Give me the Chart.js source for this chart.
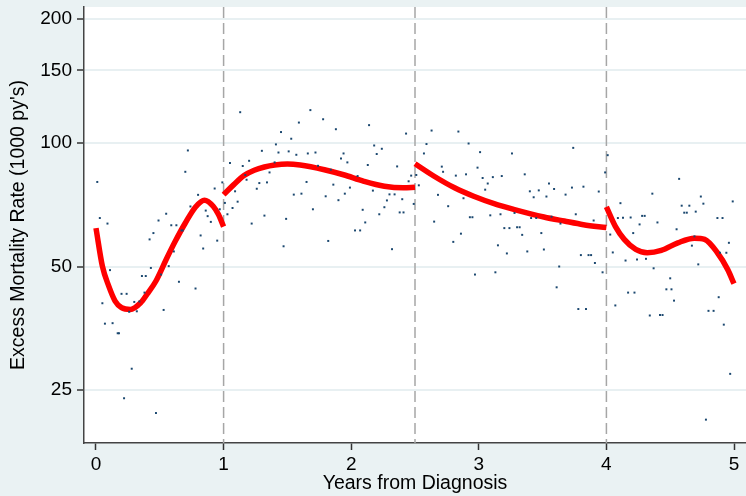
<!DOCTYPE html>
<html>
<head>
<meta charset="utf-8">
<script src="https://cdn.jsdelivr.net/npm/chart.js@4.4.0/dist/chart.umd.min.js"></script>
<style>
    html, body { margin: 0; padding: 0; background: #eaf2f3; }
    #wrap { width: 746px; height: 496px; }
</style>
</head>
<body>
<div id="wrap"><canvas id="chart"></canvas></div>
<script>
const xTicks = [0, 1, 2, 3, 4, 5];
const yTicks = [25, 50, 100, 150, 200];
const knots = [1, 2.5, 4];

// observed rates per interval
const dotYears = [
    0.01, 0.03, 0.05, 0.07, 0.09, 0.11, 0.13, 0.17, 0.18, 0.20,
    0.22, 0.24, 0.26, 0.28, 0.30, 0.32, 0.34, 0.36, 0.38, 0.39,
    0.42, 0.43, 0.45, 0.47, 0.49, 0.51, 0.53, 0.55, 0.57, 0.59,
    0.61, 0.63, 0.65, 0.67, 0.68, 0.70, 0.72, 0.74, 0.78,
    0.80, 0.82, 0.84, 0.86, 0.875, 0.90, 0.93, 0.95, 0.97, 0.99,
    1.01, 1.03, 1.05, 1.07, 1.09, 1.11, 1.13, 1.15, 1.17, 1.18,
    1.20, 1.22, 1.26, 1.28, 1.30, 1.32, 1.34, 1.36, 1.40, 1.41,
    1.43, 1.45, 1.47, 1.49, 1.51, 1.53, 1.55, 1.57, 1.59, 1.61,
    1.65,
    1.66, 1.68, 1.70, 1.72, 1.74, 1.78, 1.80, 1.82, 1.84, 1.86,
    1.88, 1.90, 1.92, 1.94, 1.95, 1.97, 1.99, 2.03, 2.05, 2.07,
    2.09, 2.11, 2.13, 2.14, 2.17, 2.18, 2.20, 2.22, 2.24, 2.26,
    2.28, 2.30, 2.32, 2.34, 2.36, 2.38, 2.40, 2.41, 2.43, 2.45,
    2.47, 2.49,
    2.51, 2.53, 2.57, 2.59, 2.63, 2.65, 2.68, 2.71, 2.72, 2.76,
    2.80, 2.82, 2.84, 2.86, 2.88, 2.90, 2.92, 2.93, 2.95, 2.97,
    2.99, 3.01, 3.03, 3.05, 3.07, 3.09, 3.11, 3.13, 3.15, 3.17,
    3.18, 3.20, 3.22, 3.24, 3.26, 3.28, 3.30, 3.32, 3.34, 3.36,
    3.38, 3.40, 3.41, 3.43, 3.45, 3.47, 3.49, 3.51, 3.53, 3.55,
    3.57, 3.59, 3.61, 3.63, 3.64, 3.68, 3.73, 3.74, 3.76, 3.78,
    3.80, 3.82, 3.84, 3.86, 3.88, 3.90, 3.91, 3.94, 3.97, 3.99,
    4.01, 4.03, 4.05, 4.07, 4.09, 4.11, 4.13, 4.15, 4.17, 4.19,
    4.21, 4.22,
    4.24, 4.26, 4.28, 4.30, 4.31, 4.34, 4.36, 4.37, 4.40, 4.42,
    4.44, 4.47, 4.50, 4.51, 4.53, 4.55, 4.57, 4.59, 4.61, 4.63,
    4.65, 4.67, 4.69, 4.70, 4.72, 4.74, 4.76, 4.78, 4.80, 4.84,
    4.87, 4.88, 4.89, 4.91, 4.92, 4.94, 4.96, 4.97, 4.99,
];
const dotRates = [
    80.3, 65.6, 40.7, 36.3, 63.6, 49.0, 36.4, 34.4, 34.4, 42.9,
    23.9, 42.9, 38.8, 28.2, 41.0, 38.9, 41.1, 47.4, 43.2, 47.4,
    58.2, 49.6, 60.3, 22.0, 64.7, 47.8, 39.2, 67.2, 50.1, 63.0,
    54.4, 63.0, 45.9, 61.2, 61.2, 85.0, 95.8, 70.0, 44.2,
    74.7, 59.5, 55.3, 68.4, 66.3, 64.2, 77.4, 57.8, 68.9, 80.1,
    71.4, 67.0, 89.3, 69.4, 76.2, 71.9, 118.7, 87.8, 83.5, 81.3,
    90.4, 63.6, 77.3, 79.8, 95.6, 66.5, 80.1, 84.7, 89.6, 99.1,
    94.7, 106.2, 56.0, 65.3, 95.3, 102.3, 74.8, 93.5, 112.0, 75.2,
    80.3,
    94.2, 120.1, 68.9, 94.7, 87.9, 114.1, 74.1, 57.7, 86.0, 79.1,
    107.9, 72.5, 91.6, 94.2, 75.2, 89.6, 77.8, 61.2, 83.0, 61.2,
    68.7, 64.0, 88.3, 110.4, 76.5, 98.5, 93.9, 67.0, 96.7, 69.7,
    72.4, 74.9, 55.1, 74.9, 87.6, 67.7, 72.9, 67.7, 105.3, 80.6,
    83.2, 71.0,
    83.5, 78.8, 94.2, 99.3, 107.1, 64.3, 74.7, 87.5, 85.0, 70.1,
    57.4, 83.2, 106.5, 60.1, 73.3, 83.8, 99.6, 65.9, 65.9, 47.8,
    87.0, 94.9, 82.1, 76.9, 79.6, 66.6, 82.5, 48.4, 56.3, 67.0,
    83.0, 62.0, 53.8, 62.0, 94.2, 67.5, 62.3, 62.3, 59.7, 83.8,
    54.4, 76.2, 65.6, 73.7, 65.6, 76.6, 60.3, 55.0, 74.0, 79.6,
    66.1, 77.2, 44.5, 50.0, 63.6, 74.8, 77.8, 97.2, 67.0, 39.4,
    53.3, 78.2, 39.4, 53.3, 53.3, 64.7, 51.0, 76.1, 48.4, 84.7,
    93.3, 59.8, 54.1, 40.2, 65.6, 71.3, 65.7, 51.7, 43.2, 65.8,
    60.3, 43.2,
    52.0, 63.3, 66.4, 66.4, 52.2, 38.0, 75.2, 49.5, 64.0, 38.1,
    38.1, 44.0, 46.8, 44.0, 41.3, 61.6, 81.7, 70.3, 67.6, 67.6,
    70.3, 56.2, 59.2, 68.0, 50.6, 74.0, 71.1, 21.2, 39.0, 39.0,
    65.6, 42.1, 54.0, 65.6, 36.1, 54.0, 57.1, 27.4, 72.0,
];

// fitted spline, one piece per interval between knots
const fit1Years = [0, 0.05, 0.1, 0.15, 0.2, 0.27, 0.35, 0.4, 0.47, 0.55, 0.62, 0.7, 0.78, 0.85, 0.92, 0.96, 1];
const fit1Rates = [62.0, 50.1, 44.8, 41.2, 39.7, 39.3, 40.8, 42.8, 46.1, 52.0, 57.5, 63.8, 69.8, 72.5, 70.0, 66.9, 62.5];
const fit2Years = [1, 1.08, 1.16, 1.24, 1.32, 1.4, 1.5, 1.6, 1.79, 1.94, 2.1, 2.26, 2.41, 2.5];
const fit2Rates = [74.8, 79.1, 83.2, 85.7, 87.3, 88.3, 88.8, 88.3, 86.0, 83.6, 80.6, 78.4, 77.7, 78.0];
const fit3Years = [2.5, 2.65, 2.81, 2.96, 3.12, 3.28, 3.51, 3.67, 3.82, 4];
const fit3Rates = [88.9, 82.9, 77.7, 74.1, 71.1, 68.8, 66.0, 64.5, 63.2, 62.2];
const fit4Years = [4, 4.07, 4.14, 4.23, 4.32, 4.43, 4.56, 4.69, 4.77, 4.87, 4.95, 5];
const fit4Rates = [69.8, 62.6, 58.2, 55.0, 54.0, 54.7, 57.1, 58.6, 58.2, 54.0, 49.2, 45.4];

const toPoints = (xs, ys) => xs.map((x, i) => ({ x: x, y: ys[i] }));

const fitLine = (xs, ys) => ({
    type: 'line',
    data: toPoints(xs, ys),
    borderColor: '#ff0000',
    borderWidth: 5.5,
    pointRadius: 0,
    cubicInterpolationMode: 'monotone',
    fill: false,
});

const plotBackground = {
    id: 'plotBackground',
    beforeDraw(chart) {
        const { ctx, chartArea, width, height } = chart;
        ctx.save();
        ctx.fillStyle = '#eaf2f3';
        ctx.fillRect(0, 0, width, height);
        ctx.fillStyle = '#ffffff';
        ctx.fillRect(chartArea.left, chartArea.top, chartArea.right - chartArea.left, chartArea.bottom - chartArea.top);
        ctx.restore();
    },
};

const knotLines = {
    id: 'knotLines',
    beforeDatasetsDraw(chart) {
        const { ctx, chartArea, scales } = chart;
        ctx.save();
        ctx.strokeStyle = '#a6a6a6';
        ctx.lineWidth = 1.5;
        ctx.setLineDash([11, 5]);
        for (const k of knots) {
            const x = scales.x.getPixelForValue(k);
            ctx.beginPath();
            ctx.moveTo(x, chartArea.top);
            ctx.lineTo(x, chartArea.bottom);
            ctx.stroke();
        }
        ctx.restore();
    },
};

const font = 'Liberation Sans, Arial, sans-serif';

new Chart(document.querySelector('#chart'), {
    type: 'scatter',
    data: {
        datasets: [
            {
                data: toPoints(dotYears, dotRates),
                backgroundColor: '#1a476f',
                borderWidth: 0,
                pointStyle: 'rect',
                pointRadius: 1.4,
            },
            fitLine(fit1Years, fit1Rates),
            fitLine(fit2Years, fit2Rates),
            fitLine(fit3Years, fit3Rates),
            fitLine(fit4Years, fit4Rates),
        ],
    },
    options: {
        responsive: true,
        maintainAspectRatio: false,
        devicePixelRatio: 1,
        animation: false,
        layout: { autoPadding: false, padding: { top: 7, right: 0, left: 0, bottom: 0 } },
        plugins: {
            legend: { display: false },
            tooltip: { enabled: false },
        },
        scales: {
            x: {
                type: 'linear',
                min: -0.094,
                max: 5.094,
                afterBuildTicks: scale => { scale.ticks = xTicks.map(v => ({ value: v })); },
                afterFit: scale => {
                    scale.height = 53;
                    scale.paddingLeft = 0;
                    scale.paddingRight = 0;
                },
                ticks: {
                    color: '#000',
                    font: { family: font, size: 19 },
                    padding: 3,
                    maxRotation: 0,
                    callback: v => String(v),
                },
                grid: {
                    drawOnChartArea: false,
                    tickColor: '#333',
                    tickLength: 7,
                    tickWidth: 1.5,
                },
                border: { color: '#444', width: 1.5 },
                title: {
                    display: true,
                    text: 'Years from Diagnosis',
                    color: '#000',
                    font: { family: font, size: 19.5 },
                    padding: { top: 0, bottom: 1 },
                },
            },
            y: {
                type: 'logarithmic',
                min: 18.6,
                max: 214,
                afterBuildTicks: scale => { scale.ticks = yTicks.map(v => ({ value: v })); },
                afterFit: scale => {
                    scale.width = 84;
                    scale.paddingTop = 0;
                    scale.paddingBottom = 0;
                },
                ticks: {
                    color: '#000',
                    font: { family: font, size: 19 },
                    padding: 5,
                    callback: v => String(v),
                },
                grid: {
                    color: '#e8f0f2',
                    lineWidth: 2,
                    tickColor: '#333',
                    tickLength: 7,
                    tickWidth: 1.5,
                },
                border: { color: '#444', width: 1.5 },
                title: {
                    display: true,
                    text: "Excess Mortality Rate (1000 py's)",
                    color: '#000',
                    font: { family: font, size: 19.5 },
                    padding: { top: 7, bottom: 0 },
                },
            },
        },
    },
    plugins: [plotBackground, knotLines],
});
</script>
</body>
</html>
